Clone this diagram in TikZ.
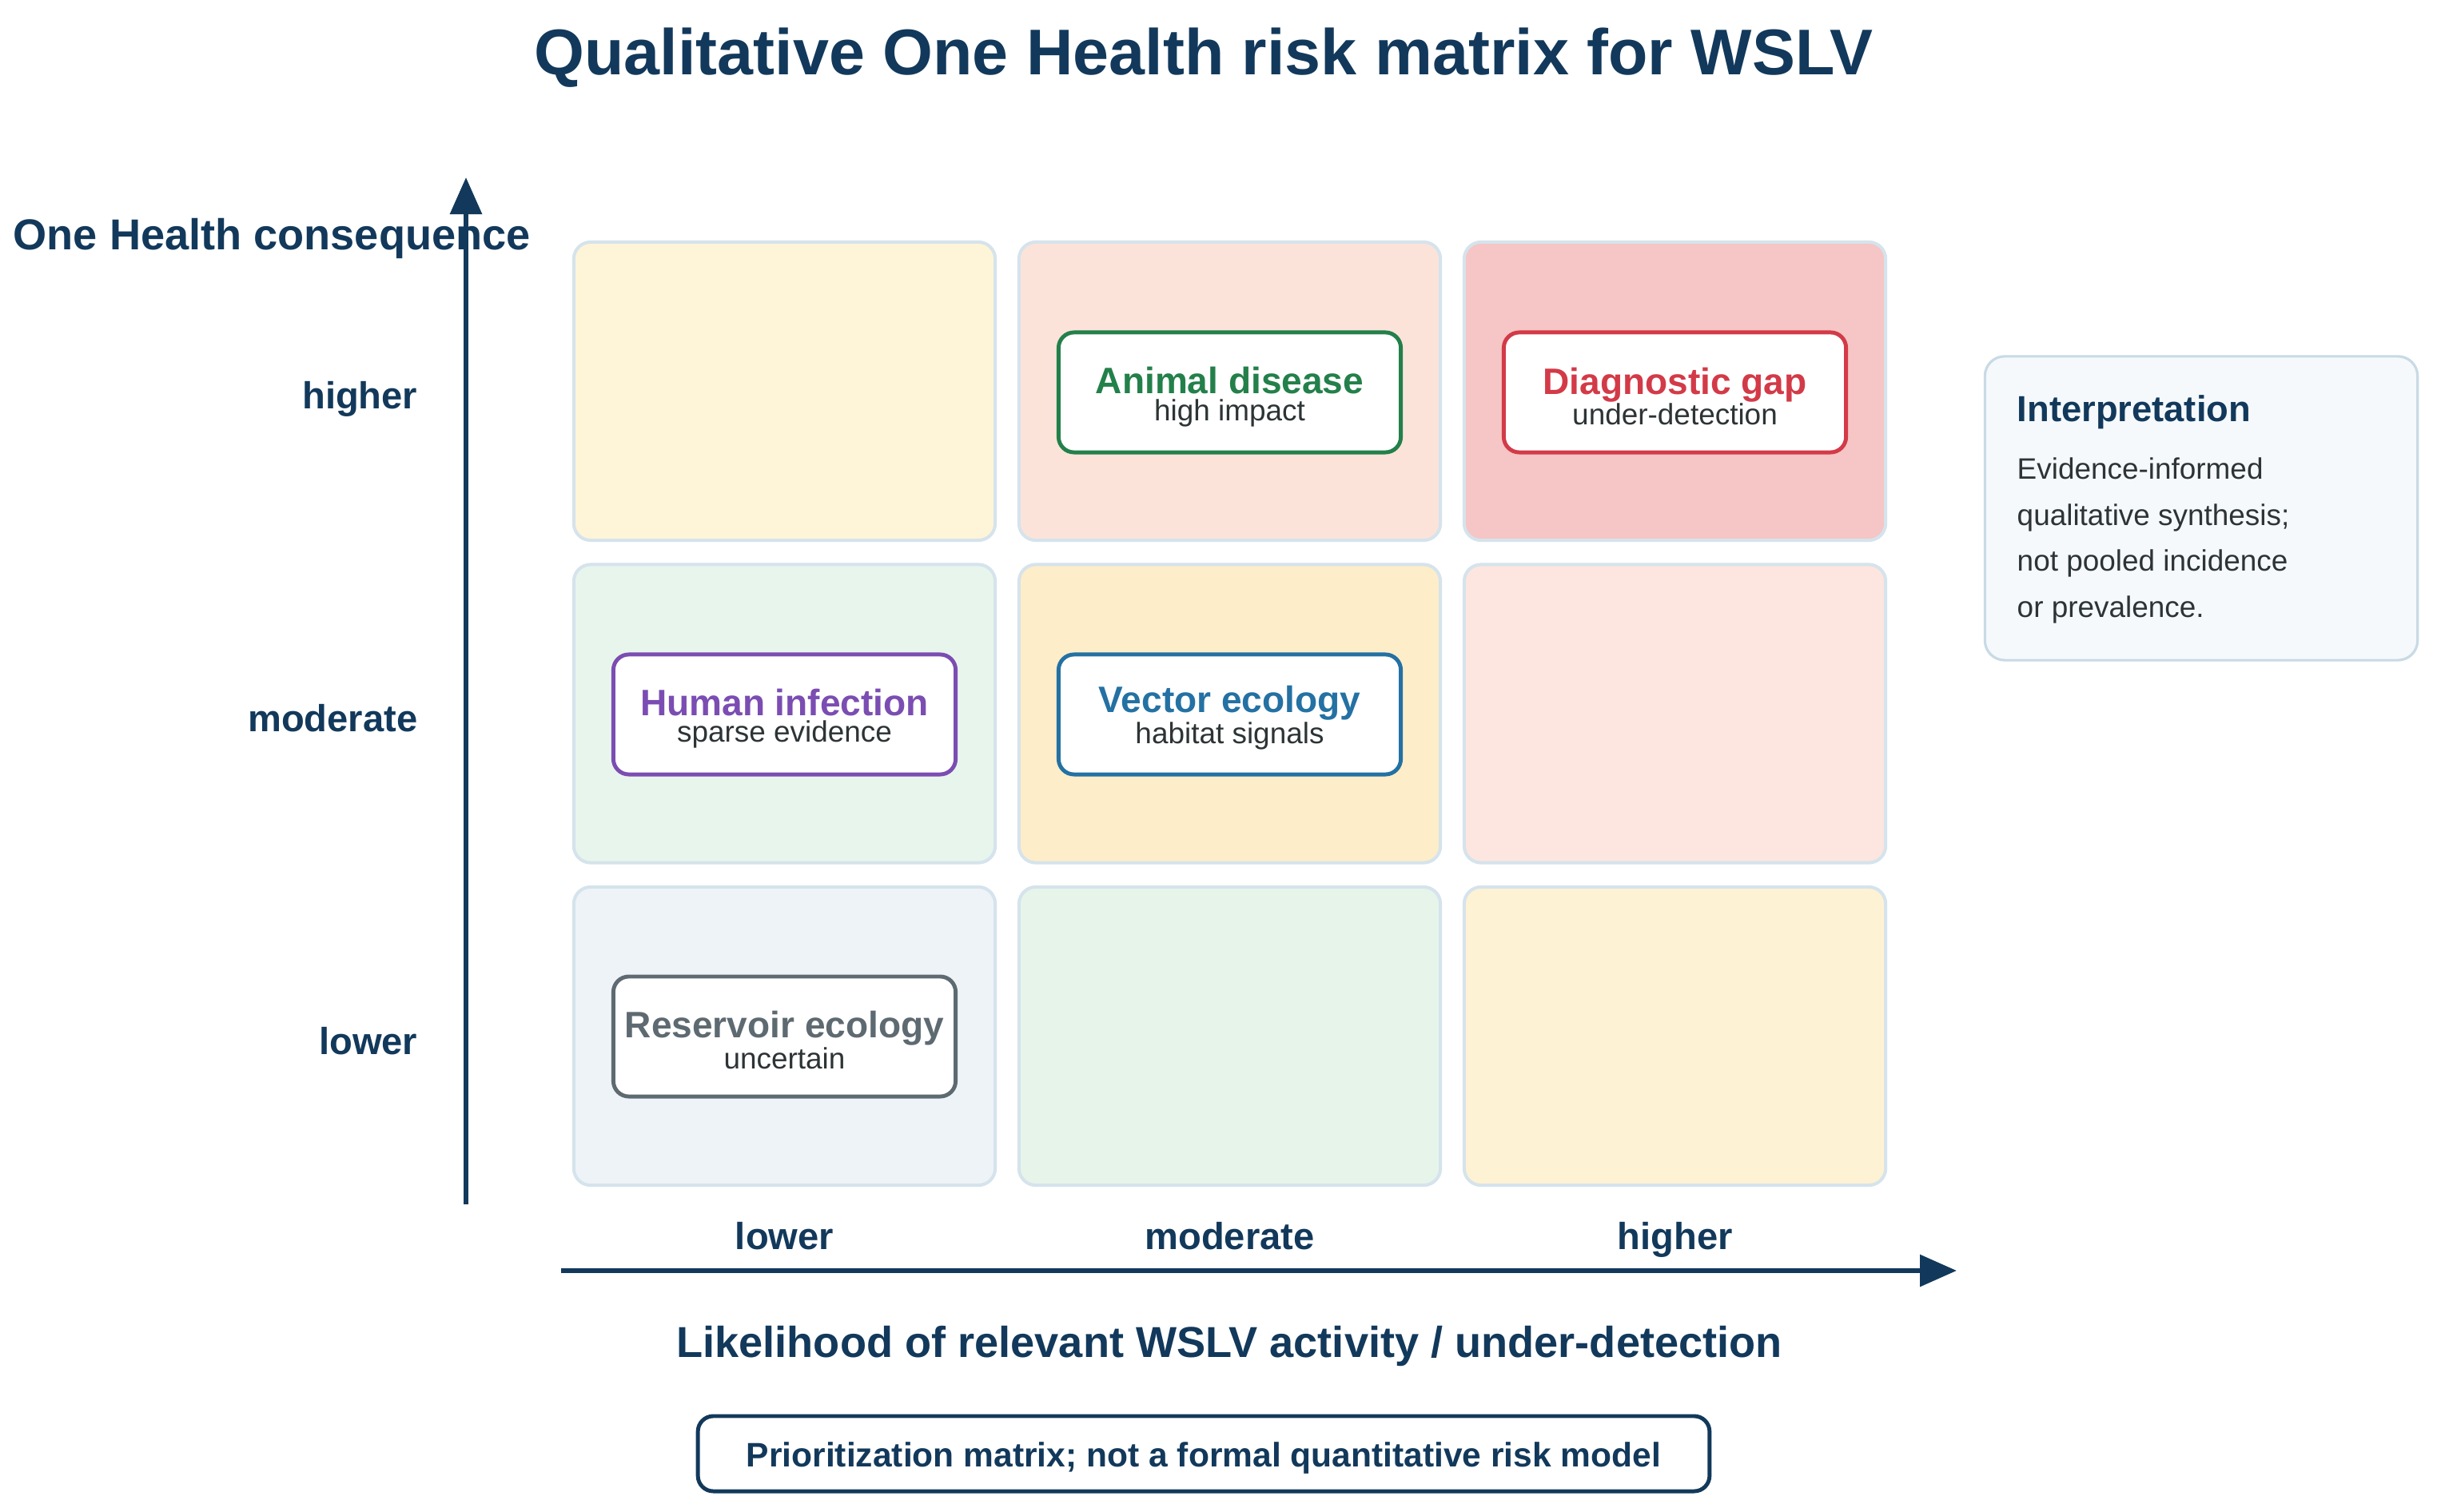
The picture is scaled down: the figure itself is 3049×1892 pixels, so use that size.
\documentclass[tikz,border=0pt]{standalone}
\usepackage{fontspec}
\setmainfont{Liberation Sans}
\usetikzlibrary{arrows.meta}
\definecolor{navy}{HTML}{12395B}
\definecolor{cellborder}{HTML}{D5E3EC}
\definecolor{cAA}{HTML}{FEF4D8}
\definecolor{cAB}{HTML}{FCE3DA}
\definecolor{cAC}{HTML}{F6C5C5}
\definecolor{cBA}{HTML}{E8F5EC}
\definecolor{cBB}{HTML}{FEEDC9}
\definecolor{cBC}{HTML}{FCE6DF}
\definecolor{cCA}{HTML}{EEF3F7}
\definecolor{cCB}{HTML}{E7F4EA}
\definecolor{cCC}{HTML}{FEF2D5}
\definecolor{kgreen}{HTML}{23804A}
\definecolor{kred}{HTML}{D33A47}
\definecolor{kpurple}{HTML}{7B4DB2}
\definecolor{kblue}{HTML}{2471A3}
\definecolor{kgray}{HTML}{5E6A71}
\definecolor{subtext}{HTML}{2D3436}
\definecolor{interpfill}{HTML}{F5F9FC}
\definecolor{interpborder}{HTML}{C8DAE5}
\tikzset{
  cell/.style={draw=cellborder, line width=1.14pt, rounded corners=6pt,
    minimum width=5.27cm, minimum height=3.73cm, inner sep=0pt},
  ibox/.style={fill=white, line width=1.4pt, rounded corners=5.5pt,
    minimum width=4.28cm, minimum height=1.50cm, inner sep=0pt},
  ititle/.style={anchor=base, inner sep=0pt, font=\fontsize{13.1pt}{15pt}\selectfont\bfseries},
  isub/.style={anchor=base, inner sep=0pt, text=subtext, font=\fontsize{10.5pt}{12pt}\selectfont},
  axlab/.style={inner sep=0pt, text=navy, font=\fontsize{13.4pt}{16pt}\selectfont\bfseries},
  axtitle/.style={inner sep=0pt, text=navy, font=\fontsize{15.4pt}{18pt}\selectfont\bfseries},
  axis/.style={draw=navy, line width=1.75pt, -{Triangle[length=0.46cm,width=0.39cm]}},
  body/.style={anchor=base west, inner sep=0pt, text=subtext, font=\fontsize{10.5pt}{12pt}\selectfont}
}
\begin{document}
\begin{tikzpicture}[x=0.01cm,y=-0.01cm]
\useasboundingbox[fill=white] (0,0) rectangle (3049,1892);

% title
\node[inner sep=0pt, anchor=base, text=navy, font=\fontsize{23pt}{27pt}\selectfont\bfseries]
  (title) at (1506,94) {Qualitative One Health risk matrix for WSLV};

% cells
\node[cell, fill=cAA] (c11) at (981.5,489.5) {};
\node[cell, fill=cAB] (c12) at (1538.5,489.5) {};
\node[cell, fill=cAC] (c13) at (2095.5,489.5) {};
\node[cell, fill=cBA] (c21) at (981.5,893) {};
\node[cell, fill=cBB] (c22) at (1538.5,893) {};
\node[cell, fill=cBC] (c23) at (2095.5,893) {};
\node[cell, fill=cCA] (c31) at (981.5,1296.5) {};
\node[cell, fill=cCB] (c32) at (1538.5,1296.5) {};
\node[cell, fill=cCC] (c33) at (2095.5,1296.5) {};

% inner boxes
\node[ibox, draw=kgreen] (anim) at (1538.5,491) {};
\node[ititle, text=kgreen] (animT) at (1538.5,493) {Animal disease};
\node[isub] (animS) at (1538.5,527) {high impact};

\node[ibox, draw=kred] (diag) at (2095.5,491) {};
\node[ititle, text=kred] (diagT) at (2095.5,494) {Diagnostic gap};
\node[isub] (diagS) at (2095.5,532) {under-detection};

\node[ibox, draw=kpurple] (human) at (981.5,894) {};
\node[ititle, text=kpurple] (humanT) at (981.5,896) {Human infection};
\node[isub] (humanS) at (981.5,929) {sparse evidence};

\node[ibox, draw=kblue] (vect) at (1538.5,894) {};
\node[ititle, text=kblue] (vectT) at (1538.5,892) {Vector ecology};
\node[isub] (vectS) at (1538.5,930) {habitat signals};

\node[ibox, draw=kgray] (res) at (981.5,1297) {};
\node[ititle, text=kgray] (resT) at (981.5,1298) {Reservoir ecology};
\node[isub] (resS) at (981.5,1337) {uncertain};

% y axis
\node[axtitle, anchor=base west] (ytitle) at (16,313) {One Health consequence};
\node[axlab, anchor=base east] (yhi) at (523,512) {higher};
\node[axlab, anchor=base east] (ymod) at (523,915) {moderate};
\node[axlab, anchor=base east] (ylo) at (523,1319) {lower};
\coordinate (ybot) at (583,1507);
\coordinate (ytop) at (583,222);
\draw[axis] (ybot) -- (ytop);

% x axis
\node[axlab, anchor=base] (xlo) at (981.5,1563) {lower};
\node[axlab, anchor=base] (xmod) at (1538.5,1563) {moderate};
\node[axlab, anchor=base] (xhi) at (2095.5,1563) {higher};
\coordinate (xleft) at (702,1590);
\coordinate (xright) at (2448,1590);
\draw[axis] (xleft) -- (xright);
\node[axtitle, anchor=base] (xtitle) at (1538,1698) {Likelihood of relevant WSLV activity / under-detection};

% note
\node[draw=navy, fill=white, line width=1.4pt, rounded corners=5.5pt,
  minimum width=12.65cm, minimum height=0.94cm, inner sep=0pt] (note) at (1506,1819) {};
\node[inner sep=0pt, anchor=base, text=navy, font=\fontsize{12.1pt}{14pt}\selectfont\bfseries]
  (noteT) at (1506,1835) {Prioritization matrix; not a formal quantitative risk model};

% interpretation
\node[draw=interpborder, fill=interpfill, line width=0.9pt, rounded corners=7pt,
  minimum width=5.41cm, minimum height=3.80cm, inner sep=0pt] (interp) at (2754,636) {};
\node[anchor=base west, inner sep=0pt, text=navy, font=\fontsize{12.9pt}{15pt}\selectfont\bfseries]
  (interpT) at (2523,528) {Interpretation};
\node[body] (b1) at (2523,600) {Evidence-informed};
\node[body] (b2) at (2523,658) {qualitative synthesis;};
\node[body] (b3) at (2523,715) {not pooled incidence};
\node[body] (b4) at (2523,773) {or prevalence.};
\end{tikzpicture}
\end{document}
